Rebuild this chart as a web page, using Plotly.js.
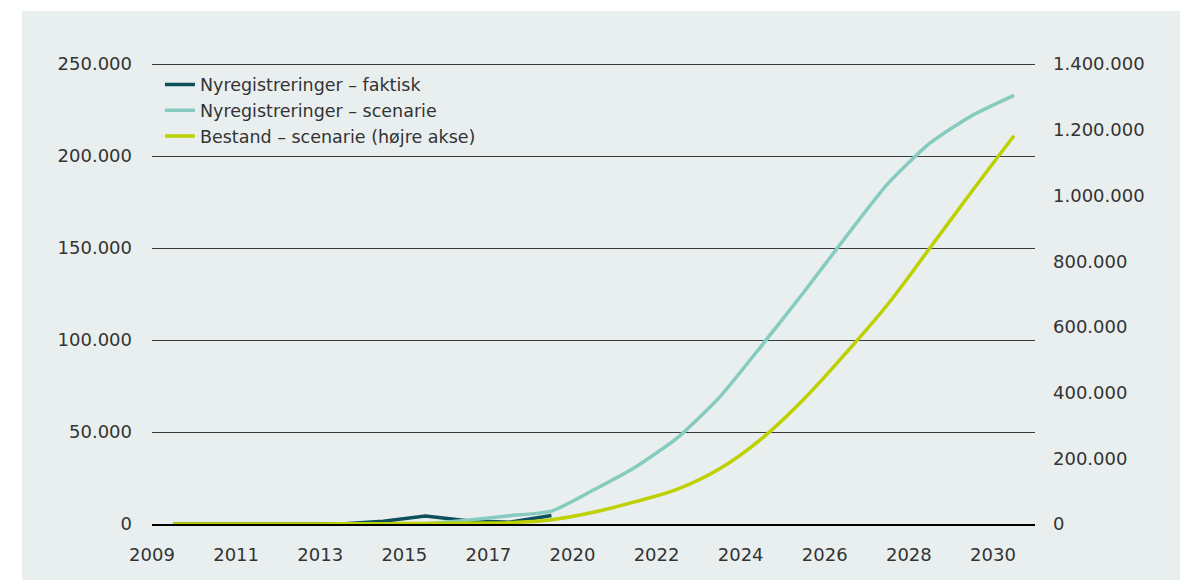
<!DOCTYPE html>
<html>
<head>
<meta charset="utf-8">
<script src="https://cdn.plot.ly/plotly-3.0.1.min.js"></script>
<style>
  html, body { margin: 0; padding: 0; background: #ffffff; }
  #chart { width: 1180px; height: 580px; }
</style>
</head>
<body>
<div id="chart"></div>
<script>
// Tick labels shown under the x axis (every second point position)
const xTickLabels = ['2009', '2011', '2013', '2015', '2017', '2020', '2022', '2024', '2026', '2028', '2030'];

// Series values, one per point position (21 positions)
const nyregFaktisk = [0, 0, 0, 0, 0, 1500, 4300, 1800, 900, 4600, null, null, null, null, null, null, null, null, null, null, null];
const nyregScenarie = [null, null, null, null, null, null, 0, 2000, 4500, 7000, 18500, 31000, 47000, 69000, 97000, 126000, 156000, 185000, 207000, 222000, 233000];
const bestandScenarie = [0, 0, 0, 0, 500, 1000, 1500, 2500, 4000, 13000, 36000, 68000, 106000, 168000, 260000, 380000, 520000, 669000, 840000, 1013000, 1182000];

const seriesNames = ['Nyregistreringer \u2013 faktisk', 'Nyregistreringer \u2013 scenarie', 'Bestand \u2013 scenarie (h\u00f8jre akse)'];

const leftTicks = [0, 50000, 100000, 150000, 200000, 250000];
const rightTicks = [0, 200000, 400000, 600000, 800000, 1000000, 1200000, 1400000];

const fmt = v => v === 0 ? '0' : v.toLocaleString('en-US').replace(/,/g, '.');
const idx = arr => arr.map((_, i) => i);
const tickPos = xTickLabels.map((_, k) => k * 2 - 0.5);

const FONT = 'DejaVu Sans, sans-serif';
const TXT = '#333333';
const TOPPAD = 1.0024; // tiny headroom so the top gridline is drawn

const traces = [
  {
    x: idx(nyregFaktisk), y: nyregFaktisk, name: seriesNames[0], type: 'scatter', mode: 'lines',
    line: { color: '#0d4f5a', width: 3.5 }, yaxis: 'y'
  },
  {
    x: idx(nyregScenarie), y: nyregScenarie, name: seriesNames[1], type: 'scatter', mode: 'lines',
    line: { color: '#85cbbf', width: 3.5, shape: 'spline', smoothing: 0.6 }, yaxis: 'y'
  },
  {
    x: idx(bestandScenarie), y: bestandScenarie, name: seriesNames[2], type: 'scatter', mode: 'lines',
    line: { color: '#bdd000', width: 3.5, shape: 'spline', smoothing: 1 }, yaxis: 'y2'
  }
];

const layout = {
  width: 1180, height: 580,
  paper_bgcolor: '#ffffff',
  plot_bgcolor: 'rgba(0,0,0,0)',
  margin: { l: 152, r: 145, t: 63, b: 56 },
  font: { family: FONT, color: TXT, size: 18 },
  showlegend: true,
  legend: {
    x: 0.009, xanchor: 'left', y: 0.992, yanchor: 'top',
    bgcolor: 'rgba(0,0,0,0)', font: { family: FONT, size: 17.5, color: TXT },
    traceorder: 'normal'
  },
  xaxis: {
    type: 'linear', range: [-0.5, 20.5],
    tickmode: 'array', tickvals: tickPos, ticktext: xTickLabels,
    showgrid: false, zeroline: false,
    showline: true, linecolor: '#000000', linewidth: 1.5,
    ticks: '', ticklabelstandoff: 14,
    tickfont: { family: FONT, size: 18, color: TXT }, fixedrange: true
  },
  yaxis: {
    range: [0, 250000 * TOPPAD],
    tickmode: 'array', tickvals: leftTicks, ticktext: leftTicks.map(fmt),
    showgrid: true, gridcolor: '#3a3a3a', gridwidth: 1,
    zeroline: false, showline: false, ticks: '', ticklabelstandoff: 19,
    tickfont: { family: FONT, size: 18, color: TXT }, fixedrange: true
  },
  yaxis2: {
    range: [0, 1400000 * TOPPAD], overlaying: 'y', side: 'right',
    tickmode: 'array', tickvals: rightTicks, ticktext: rightTicks.map(fmt),
    showgrid: false, zeroline: false, showline: false, ticks: '', ticklabelstandoff: 17,
    tickfont: { family: FONT, size: 18, color: TXT }, fixedrange: true
  },
  shapes: [
    {
      type: 'rect', xref: 'paper', yref: 'paper', layer: 'below',
      x0: (22 - 152) / 883, x1: (1180 - 152) / 883,
      y0: -(56 / 461), y1: (524 - 11) / 461,
      fillcolor: '#e9efef', line: { width: 0 }
    }
  ]
};

Plotly.newPlot('chart', traces, layout, { displayModeBar: false, staticPlot: true });
</script>
</body>
</html>
